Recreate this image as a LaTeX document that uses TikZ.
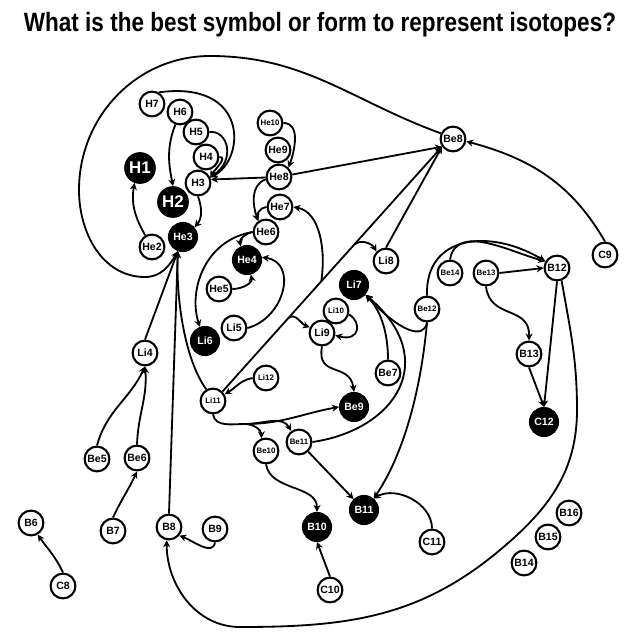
\documentclass[tikz,border=0pt]{standalone}
\usepackage{graphicx}
\usepackage{fontspec}
\setmainfont{Liberation Sans}
\usetikzlibrary{arrows.meta}

\begin{document}
\begin{tikzpicture}[x=0.025cm,y=-0.025cm,line width=1.3pt,
    >={Stealth[length=5pt,width=5pt]},
    iso/.style={circle,draw,line width=1.5pt,fill=white,inner sep=0pt,minimum size=0.62cm,
        font=\bfseries\fontsize{7.5}{8}\selectfont},
    isosm/.style={iso,font=\bfseries\fontsize{5.6}{6}\selectfont},
    stab/.style={iso,fill=black,text=white,minimum size=0.7cm},
    stabbig/.style={stab,minimum size=0.74cm,font=\bfseries\fontsize{12}{12}\selectfont}]
    \useasboundingbox (0,0) rectangle (640,640);
    \node[anchor=base] (title) at (320,31) {\resizebox{14.8cm}{0.48cm}{\bfseries What is the best symbol or form to represent isotopes?}};

    \node[iso] (H7) at (152,104) {H7};
    \node[iso] (H6) at (180,112) {H6};
    \node[iso] (H5) at (196,132) {H5};
    \node[iso] (H4) at (206,157) {H4};
    \node[iso] (H3) at (198,183) {H3};
    \node[stabbig] (H1) at (140,168) {H1};
    \node[stabbig] (H2) at (173,202) {H2};
    \node[stab] (He3) at (183,237) {He3};
    \node[iso] (He2) at (152,247) {He2};
    \node[isosm] (He10) at (270,123) {He10};
    \node[iso] (He9) at (278,150) {He9};
    \node[iso] (He8) at (279,177) {He8};
    \node[iso] (He7) at (280,207) {He7};
    \node[iso] (He6) at (266,232) {He6};
    \node[stab] (He4) at (247,260) {He4};
    \node[iso] (He5) at (219,289) {He5};
    \node[iso] (Li5) at (234,328) {Li5};
    \node[stab] (Li6) at (205,341) {Li6};
    \node[iso] (Li4) at (145,353) {Li4};
    \node[isosm] (Li11) at (213,401) {Li11};
    \node[isosm] (Li12) at (266,378) {Li12};
    \node[iso] (Be8) at (453,139) {Be8};
    \node[iso] (Li8) at (386,261) {Li8};
    \node[stab] (Li7) at (354,285) {Li7};
    \node[isosm] (Li10) at (336,311) {Li10};
    \node[iso] (Li9) at (322,333) {Li9};
    \node[iso] (Be7) at (388,373) {Be7};
    \node[stab] (Be9) at (354,407) {Be9};
    \node[isosm] (Be12) at (427,309) {Be12};
    \node[isosm] (Be14) at (450,273) {Be14};
    \node[isosm] (Be13) at (486,273) {Be13};
    \node[iso] (B12) at (557,268) {B12};
    \node[iso] (C9) at (605,255) {C9};
    \node[iso] (B13) at (529,354) {B13};
    \node[stab] (C12) at (544,422) {C12};
    \node[isosm] (Be10) at (266,451) {Be10};
    \node[isosm] (Be11) at (299,442) {Be11};
    \node[stab] (B11) at (364,510) {B11};
    \node[stab] (B10) at (317,527) {B10};
    \node[iso] (C11) at (432,542) {C11};
    \node[iso] (C10) at (330,590) {C10};
    \node[iso] (Be5) at (97,459) {Be5};
    \node[iso] (Be6) at (137,458) {Be6};
    \node[iso] (B6) at (31,523) {B6};
    \node[iso] (B7) at (113,531) {B7};
    \node[iso] (B8) at (169,527) {B8};
    \node[iso] (B9) at (215,529) {B9};
    \node[iso] (C8) at (63,586) {C8};
    \node[iso] (B16) at (569,513) {B16};
    \node[iso] (B15) at (548,537) {B15};
    \node[iso] (B14) at (524,563) {B14};

    \path (Li11.north east) -- (Be8.215) coordinate[pos=0.3] (fk9) coordinate[pos=0.45] (fk7) coordinate[pos=0.6] (fk8);
    \coordinate (trk) at (245,424);

    \draw[->] (Be8.155) to[out=160,in=0] (210,56) to[out=180,in=90] (79,190) to[out=-90,in=180] (145,277) to[out=0,in=-120] (He3.250);
    \draw[->] (H7.60) .. controls (250,80) and (245,160) .. (H3.25);
    \draw[->] (H5.east) .. controls (228,130) and (236,160) .. (H3.25);
    \draw[->] (H4.east) to[out=0,in=60] (H3.25);
    \draw[->] (H6.250) .. controls (165,150) and (170,170) .. (H2.north);
    \draw[->] (He8) -- (H3.15);
    \draw[->] (H3.south) to[out=-70,in=50] (He3.40);
    \draw[->] (He2.120) to[out=120,in=-100] (H1.250);
    \draw[->] (He10.east) to[out=0,in=70] (He8.45);
    \draw[->] (He8) -- (Be8.215);
    \draw[->] (He8.190) to[out=200,in=110] (He6.125);
    \draw[->] (He7.west) to[out=180,in=110] (He6.125);
    \draw[->] (He6.west) to[out=190,in=100] (He4.115);
    \draw[->] (He6.west) .. controls (205,240) and (188,290) .. (Li6.110);
    \draw[->] (He5.east) to[out=0,in=-80] (He4.-75);
    \draw[->] (Li5.east) .. controls (285,318) and (298,262) .. (He4.10);
    \draw[->] (Li11.north east) -- (Be8.215);
    \draw[->] (fk9) to[out=40,in=160] (Li9.155);
    \draw[->] (fk7) .. controls (326,250) and (320,212) .. (He7.east);
    \draw[->] (fk8) to[out=40,in=120] (Li8.135);
    \draw[->] (Li8.north) -- (Be8.215);
    \draw[->] (Li10.-15) .. controls (362,322) and (360,342) .. (Li9.-10);
    \draw[->] (Li9.south) .. controls (316,378) and (350,362) .. (Be9.north);
    \draw[->] (Li11.south) to[out=-80,in=180] (trk) to[out=0,in=190] (Be9.west);
    \draw[->] (trk) to[out=0,in=90] (Be10.110);
    \draw[->] (trk) to[out=0,in=120] (Be11.125);
    \draw[->] (Li12.west) to[out=190,in=30] (Li11.30);
    \draw[->] (Li11.120) .. controls (185,360) and (176,300) .. (He3.250);
    \draw[->] (Li4.north) -- (He3.250);
    \draw[->] (B8.north) -- (He3.250);
    \draw[->] (Be5.north) to[out=75,in=-115] (Li4.south);
    \draw[->] (Be6.north) to[out=88,in=-85] (Li4.south);
    \draw[->] (B7.north) to[out=65,in=-115] (Be6.south);
    \draw[->] (C8.north) to[out=115,in=-55] (B6.-60);
    \draw[->] (B9.south) to[out=-100,in=-20] (B8.-40);
    \draw[->] (B12.-70) to[out=-80,in=90] (577,410) to[out=-90,in=40] (500,550) to[out=-140,in=0] (240,627) to[out=180,in=-90] (B8.260);
    \draw[->] (B12.south) -- (C12.north);
    \draw[->] (B13.south) -- (C12.north);
    \draw[->] (Be13.south) .. controls (490,320) and (530,305) .. (B13.north);
    \draw[->] (Be13.east) -- (B12.west);
    \draw[->] (Be14.north) to[out=80,in=165] (B12.150);
    \draw[->] (Be12.north) .. controls (425,235) and (490,228) .. (B12.150);
    \draw[->] (Be12.south) .. controls (424,340) and (400,332) .. (Li7.-40);
    \draw[->] (Be7.north) .. controls (388,335) and (382,312) .. (Li7.-40);
    \draw[->] (Be11.east) .. controls (395,430) and (442,360) .. (Li7.-40);
    \draw[->] (Be12.south) .. controls (420,400) and (400,460) .. (B11.50);
    \draw[->] (C11.north) to[out=90,in=30] (B11.50);
    \draw[->] (Be11) -- (B11);
    \draw[->] (Be10.south) to[out=-80,in=90] (B10.north);
    \draw[->] (C10.north) -- (B10.south);
    \draw[->] (C9.north) to[out=120,in=-15] (Be8.-10);
\end{tikzpicture}
\end{document}
